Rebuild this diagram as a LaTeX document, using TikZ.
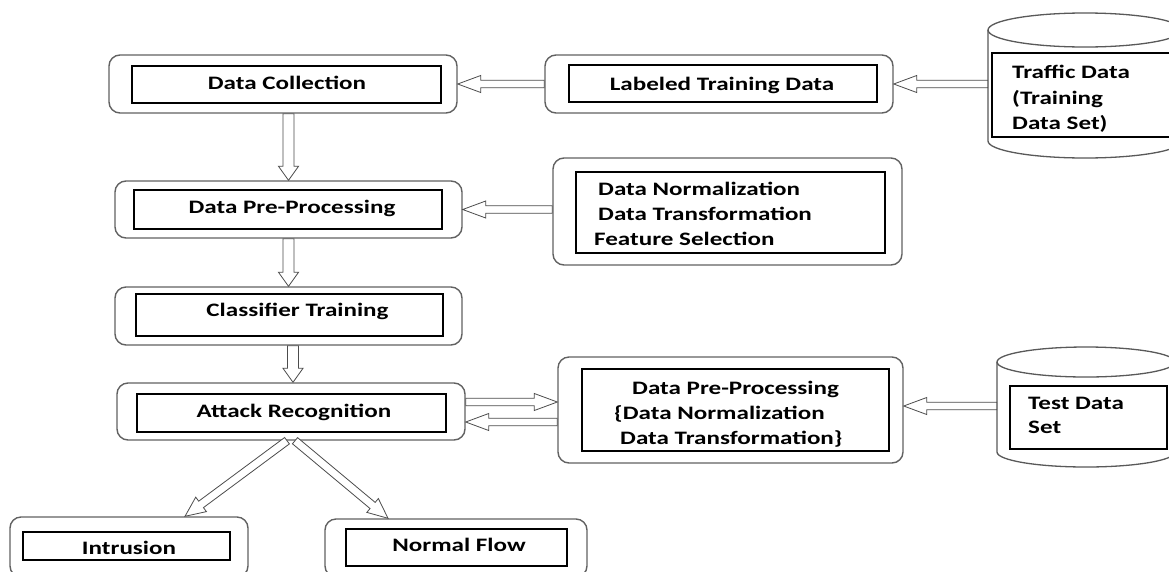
\documentclass[tikz,border=0pt]{standalone}
\usepackage{fontspec}
\setmainfont{Carlito}
\usepackage{graphicx}
\usetikzlibrary{calc}
\newcommand{\wx}[1]{\scalebox{1.32}[1]{#1}}
\begin{document}
\begin{tikzpicture}[x=1pt,y=-1pt,
  outerbox/.style={draw=black!62, line width=1.4pt, rounded corners=11pt, inner sep=0pt, fill=white},
  innerbox/.style={draw=black, line width=1.2pt, inner sep=0pt},
  lbl/.style={font=\fontsize{19}{25}\selectfont\bfseries, inner sep=0pt, text=black},
  cylline/.style={draw=black!65, line width=1.3pt},
  blkarrow/.style n args={3}{draw=black!70, line width=0.8pt, fill=white, to path={
    let \p1=(\tikztostart), \p2=(\tikztotarget),
        \n1={atan2(\y2-\y1,\x2-\x1)}, \n2={veclen(\x2-\x1,\y2-\y1)-#3} in
    ($(\p1)+(\n1+90:#1)$) -- ($(\p1)+(\n1:\n2)+(\n1+90:#1)$)
    -- ($(\p1)+(\n1:\n2)+(\n1+90:#2)$) -- (\p2)
    -- ($(\p1)+(\n1:\n2)+(\n1-90:#2)$) -- ($(\p1)+(\n1:\n2)+(\n1-90:#1)$)
    -- ($(\p1)+(\n1-90:#1)$) -- cycle}},
  harrow/.style={blkarrow={3.8pt}{8.5pt}{23pt}},
  varrow/.style={blkarrow={5.5pt}{10pt}{14pt}},
  darrow/.style={blkarrow={4pt}{9pt}{20pt}}
]
\useasboundingbox (0,0) rectangle (1169,571);
\fill[white] (0,0) rectangle (1169,571);
\clip (0,0) rectangle (1169,571);

% ---- left column ----
\node[outerbox, minimum width=348pt, minimum height=58pt] (dc) at (283,84) {};
\node[innerbox, minimum width=309pt, minimum height=37pt] (dci) at (286.5,84.5) {};
\node[lbl, anchor=base] (dct) at (287,89.5) {\wx{Data Collection}};

\node[outerbox, minimum width=347pt, minimum height=57pt] (dpp) at (288.5,209.5) {};
\node[innerbox, minimum width=308pt, minimum height=39pt] (dppi) at (288,209.5) {};
\node[lbl, anchor=base] (dppt) at (292,213) {\wx{Data Pre-Processing}};

\node[outerbox, minimum width=347pt, minimum height=58pt] (clf) at (288.5,316) {};
\node[innerbox, minimum width=307pt, minimum height=42pt] (clfi) at (289.5,315) {};
\node[lbl, anchor=base] (clft) at (297.5,316) {\wx{Classifier Training}};

\node[outerbox, minimum width=348pt, minimum height=57pt] (att) at (291,411.5) {};
\node[innerbox, minimum width=309pt, minimum height=38pt] (atti) at (291.5,413) {};
\node[lbl, anchor=base] (attt) at (294,417) {\wx{Attack Recognition}};

\node[outerbox, minimum width=238pt, minimum height=60pt] (intr) at (129,547) {};
\node[innerbox, minimum width=207pt, minimum height=28pt] (intri) at (126.5,546) {};
\node[lbl, anchor=base] (intrt) at (129,554) {\wx{Intrusion}};

\node[outerbox, minimum width=262pt, minimum height=58pt] (nrm) at (456,548) {};
\node[innerbox, minimum width=221pt, minimum height=37pt] (nrmi) at (456.5,547.5) {};
\node[lbl, anchor=base] (nrmt) at (459,551) {\wx{Normal Flow}};

% ---- right column ----
\node[outerbox, minimum width=348pt, minimum height=58pt] (lab) at (719,84) {};
\node[innerbox, minimum width=308pt, minimum height=37pt] (labi) at (723,83.5) {};
\node[lbl, anchor=base] (labt) at (722,90) {\wx{Labeled Training Data}};

\node[outerbox, minimum width=349pt, minimum height=107pt] (nor) at (727.5,211.5) {};
\node[innerbox, minimum width=309pt, minimum height=81pt] (nori) at (730.5,212.5) {};
\node[lbl, anchor=west, align=left] (nort) at (594,213.5)
  {\hspace*{4pt}\wx{Data Normalization}\\\hspace*{4pt}\wx{Data Transformation}\\\wx{Feature Selection}};

\node[outerbox, minimum width=345pt, minimum height=106pt] (dp2) at (730.5,410) {};
\node[innerbox, minimum width=307pt, minimum height=82pt] (dp2i) at (735.5,410) {};
\node[lbl, anchor=west, align=left] (dp2t) at (614,414)
  {\hspace*{18pt}\wx{Data Pre-Processing}\\\wx{\{Data Normalization}\\\hspace*{6pt}\wx{Data Transformation\}}};

% ---- cylinders ----
\node[minimum width=194pt, minimum height=145pt, inner sep=0pt] (trf) at (1085,85.5) {};
\draw[cylline, fill=white] (988,30) -- (988,141) arc[start angle=180, end angle=360, x radius=97pt, y radius=17pt] -- (1182,30);
\draw[cylline, fill=white] (1085,30) ellipse [x radius=97pt, y radius=17pt];
\node[innerbox, minimum width=178pt, minimum height=84pt] (trfi) at (1081,95) {};
\node[lbl, anchor=west, align=left, font=\fontsize{19}{25.5}\selectfont\bfseries] (trft) at (1012,99)
  {\wx{Traffic Data}\\\wx{(Training}\\\wx{Data Set)}};

\node[minimum width=178pt, minimum height=120pt, inner sep=0pt] (tst) at (1086,407) {};
\draw[cylline, fill=white] (997,362) -- (997,452) arc[start angle=180, end angle=360, x radius=89pt, y radius=15pt] -- (1175,362);
\draw[cylline, fill=white] (1086,362) ellipse [x radius=89pt, y radius=15pt];
\node[innerbox, minimum width=157pt, minimum height=63pt] (tsti) at (1088.5,417.5) {};
\node[lbl, anchor=west, align=left, font=\fontsize{19}{24}\selectfont\bfseries] (tstt) at (1028,415.5)
  {\wx{Test Data}\\\wx{Set}};

% ---- connectors ----
\draw[harrow] (lab.west) to (dc.east);
\draw[harrow] (trf.west |- lab.east) to (lab.east);
\draw[harrow] (nor.west |- dpp.east) to (dpp.east);
\draw[harrow] ($(tst.west |- dp2.east)+(0,-4)$) to ($(dp2.east)+(0,-4)$);
\draw[harrow] ($(att.east)+(0,-9.5)$) to ($(dp2.west |- att.east)+(0,-9.5)$);
\draw[harrow] ($(dp2.west |- att.east)+(0,10.5)$) to ($(att.east)+(0,10.5)$);

\draw[varrow] (dc.south -| dpp.north) to (dpp.north);
\draw[varrow] (dpp.south) to (dpp.south |- clf.north);
\draw[varrow] ($(clf.south)+(4.5,0)$) to ($(att.north)+(2,0)$);

\draw[darrow] ($(att.south)+(-4,0)$) to ($(intr.north)+(56,0)$);
\draw[darrow] ($(att.south)+(4,0)$) to ($(nrm.north)+(-68,0)$);
\end{tikzpicture}
\end{document}
